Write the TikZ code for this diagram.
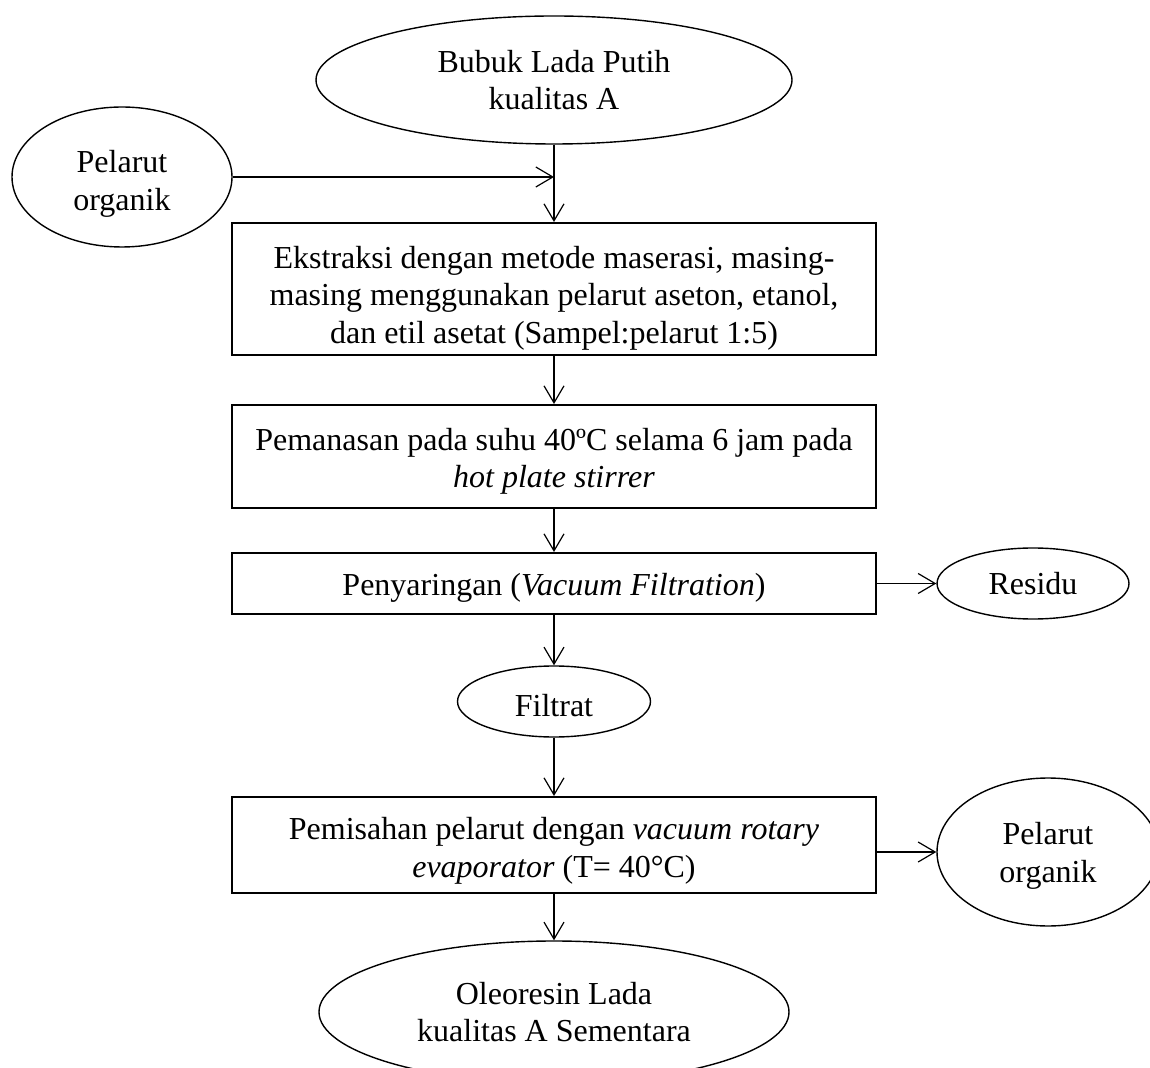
\documentclass[tikz,border=0pt]{standalone}
\usepackage{fontspec}
\setmainfont{Liberation Serif}
\usetikzlibrary{shapes.geometric,arrows.meta}
\begin{document}
\begin{tikzpicture}[x=0.5pt,y=-0.5pt,
  txt/.style={font=\fontsize{16}{18.75}\selectfont, align=center, inner sep=0pt},
  procbox/.style={draw, line width=1pt, minimum width=322pt, inner sep=0pt},
  oval/.style={txt, draw, ellipse, line width=0.7pt},
  flow/.style={line width=0.6pt, -{Straight Barb[length=8.5pt,width=10pt,line width=0.6pt]}}]
\clip (0,0) rectangle (1150,1068);
\fill[white] (0,0) rectangle (1150,1068);

\node[oval, minimum width=238pt, minimum height=64pt] (top) at (554,80) {Bubuk Lada Putih\\kualitas A};
\node[oval, minimum width=110pt, minimum height=70pt] (lp) at (122,177) {};
\node[txt, yshift=-3.5pt] (lpt) at (lp) {Pelarut\\organik};
\node[procbox, minimum height=66pt] (b1) at (554,289) {};
\node[txt, yshift=-4.5pt] (b1t) at (b1) {Ekstraksi dengan metode maserasi, masing-\\masing menggunakan pelarut aseton, etanol,\\dan etil asetat (Sampel:pelarut 1:5)};
\node[procbox, minimum height=51.5pt] (b2) at (554,456.5) {};
\node[txt, yshift=-2.5pt] (b2t) at (b2) {Pemanasan pada suhu 40ºC selama 6 jam pada\\\textit{hot plate stirrer}};
\node[procbox, minimum height=30.5pt] (b3) at (554,583.5) {};
\node[txt, yshift=-2pt] (b3t) at (b3) {Penyaringan (\textit{Vacuum Filtration})};
\node[oval, minimum width=96pt, minimum height=35.5pt] (res) at (1033,583.5) {Residu};
\node[oval, minimum width=96.5pt, minimum height=35.5pt] (fil) at (554,701.5) {};
\node[txt, yshift=-2pt] (filt) at (fil) {Filtrat};
\node[procbox, minimum height=48pt] (b4) at (554,845) {};
\node[txt, yshift=-3pt] (b4t) at (b4) {Pemisahan pelarut dengan \textit{vacuum rotary}\\\textit{evaporator} (T= 40°C)};
\node[oval, minimum width=111pt, minimum height=74pt] (rp) at (1048,852) {};
\node[txt, yshift=-2pt] (rpt) at (rp) {Pelarut\\organik};
\node[oval, minimum width=235pt, minimum height=71pt] (bot) at (554,1012) {Oleoresin Lada\\kualitas A Sementara};

\coordinate (join) at (lp.east -| top.south);
\draw[flow] (lp.east) -- (join);
\draw[flow] (top.south) -- (b1.north);
\draw[flow] (b1.south) -- (b2.north);
\draw[flow] (b2.south) -- (b3.north);
\draw[flow] (b3.east) -- (res.west);
\draw[flow] (b3.south) -- (fil.north);
\draw[flow] (fil.south) -- (b4.north);
\draw[flow] (b4.east |- rp.west) -- (rp.west);
\draw[flow] (b4.south) -- (bot.north);
\end{tikzpicture}
\end{document}
